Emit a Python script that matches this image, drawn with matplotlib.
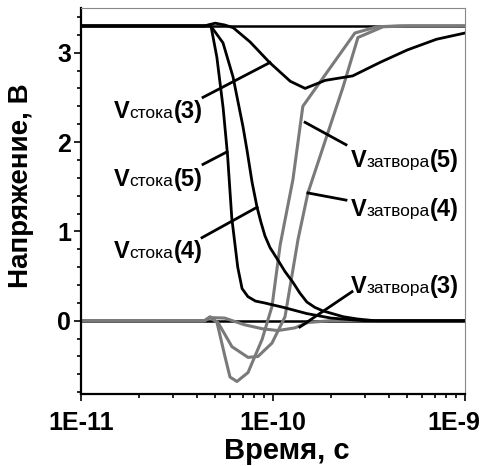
import numpy as np
import matplotlib
matplotlib.use("Agg")
from matplotlib import pyplot as plt
from matplotlib.ticker import FixedLocator, FuncFormatter, NullFormatter, MultipleLocator
from matplotlib.offsetbox import TextArea, HPacker, AnnotationBbox
from matplotlib.transforms import ScaledTranslation

plt.rcParams['font.family'] = ['Liberation Sans', 'DejaVu Sans']

# supply and ground levels
vdd = 3.3
gnd = 0.0

# drain voltages (black)
t_stok3 = [1e-11, 4.4e-11, 5.0e-11, 5.6e-11, 6.2e-11, 7.6e-11, 9.6e-11, 1.23e-10,
           1.47e-10, 1.55e-10, 1.87e-10, 2.6e-10, 3.6e-10, 5.0e-10, 7.1e-10, 1e-9]
v_stok3 = [3.3, 3.3, 3.33, 3.31, 3.28, 3.12, 2.89, 2.68,
           2.60, 2.62, 2.69, 2.74, 2.89, 3.03, 3.15, 3.22]

t_stok5 = [1e-11, 4.4e-11, 4.75e-11, 5.1e-11, 5.5e-11, 5.8e-11, 6.1e-11, 6.55e-11, 6.9e-11,
           7.4e-11, 8.1e-11, 9.0e-11, 1.13e-10, 1.5e-10, 2.0e-10, 2.6e-10, 3.0e-10, 1e-9]
v_stok5 = [3.3, 3.3, 3.3, 2.95, 2.38, 1.85, 1.15, 0.6, 0.36,
           0.27, 0.22, 0.2, 0.15, 0.08, 0.03, 0.01, 0.0, 0.0]

t_stok4 = [1e-11, 4.4e-11, 4.7e-11, 5.49e-11, 6.19e-11, 6.98e-11, 7.32e-11, 7.78e-11, 8.26e-11,
           8.66e-11, 9.08e-11, 9.64e-11, 1.06e-10, 1.155e-10, 1.27e-10, 1.38e-10, 1.5e-10,
           1.65e-10, 1.82e-10, 2.32e-10, 2.74e-10, 3.4e-10, 1e-9]
v_stok4 = [3.3, 3.3, 3.31, 3.11, 2.73, 2.17, 1.91, 1.55, 1.27,
           1.10, 0.95, 0.82, 0.68, 0.55, 0.43, 0.31, 0.21,
           0.15, 0.11, 0.045, 0.02, 0.0, 0.0]

# gate voltages (gray)
t_zatv5 = [1e-11, 4.4e-11, 4.7e-11, 5.11e-11, 5.62e-11, 5.97e-11, 6.49e-11, 7.41e-11, 8.77e-11,
           9.88e-11, 1.09e-10, 1.27e-10, 1.43e-10, 2.67e-10, 3.48e-10, 4.58e-10, 1e-9]
v_zatv5 = [0.0, 0.0, 0.045, -0.02, -0.40, -0.63, -0.68, -0.58, -0.21,
           0.16, 0.85, 1.58, 2.40, 3.22, 3.29, 3.3, 3.3]

t_zatv4 = [1e-11, 4.4e-11, 4.7e-11, 5.17e-11, 6.11e-11, 7.41e-11, 8.35e-11, 9.88e-11, 1.155e-10,
           1.35e-10, 1.52e-10, 2.32e-10, 2.77e-10, 3.74e-10, 5.18e-10, 1e-9]
v_zatv4 = [0.0, 0.0, 0.035, -0.02, -0.29, -0.41, -0.40, -0.25, 0.045,
           0.91, 1.43, 2.62, 3.17, 3.29, 3.3, 3.3]

t_zatv3 = [1e-11, 4.4e-11, 4.7e-11, 5.6e-11, 7.1e-11, 8.8e-11, 1.06e-10, 1.3e-10, 1.52e-10, 1.98e-10, 1e-9]
v_zatv3 = [0.0, 0.0, 0.035, 0.03, -0.045, -0.09, -0.11, -0.08, -0.02, 0.0, 0.0]

x_ticks = [1e-11, 1e-10, 1e-9]

gray = '#7a7a7a'

fig = plt.figure(figsize=(4.87, 4.66), dpi=100)
ax = fig.add_axes([81 / 487, 72 / 466, 384 / 487, 386 / 466])

ax.axhline(vdd, color='black', lw=1.8)
ax.axhline(gnd, color='black', lw=1.8)

ax.plot(t_zatv3, v_zatv3, color=gray, lw=2.2)
ax.plot(t_zatv4, v_zatv4, color=gray, lw=2.2)
ax.plot(t_zatv5, v_zatv5, color=gray, lw=2.2)
ax.plot(t_stok3, v_stok3, color='black', lw=2.0)
ax.plot(t_stok4, v_stok4, color='black', lw=2.0)
ax.plot(t_stok5, v_stok5, color='black', lw=2.0)

ax.set_xscale('log')
ax.set_xlim(1e-11, 1e-9)
ax.set_ylim(-0.82, 3.5)

ax.xaxis.set_major_locator(FixedLocator(x_ticks))
ax.xaxis.set_minor_locator(FixedLocator([m * d for d in x_ticks[:-1] for m in range(2, 10)]))
ax.xaxis.set_major_formatter(FuncFormatter(lambda v, p: "1E%d" % int(round(np.log10(v)))))
ax.xaxis.set_minor_formatter(NullFormatter())
ax.yaxis.set_major_locator(MultipleLocator(1))
ax.yaxis.set_minor_locator(MultipleLocator(0.2))

ax.tick_params(which='both', direction='out', top=False, right=False, width=1.2)
ax.tick_params(which='major', length=5, labelsize=18)
ax.tick_params(axis='x', which='major', pad=7)
ax.tick_params(axis='y', which='major', pad=2)
ax.tick_params(which='minor', length=3)
for lab in ax.get_xticklabels() + ax.get_yticklabels():
    lab.set_fontweight('bold')

# last x label sits a little inside the figure edge, as in the original
last = ax.xaxis.get_major_ticks()[-1].label1
last.set_transform(last.get_transform() + ScaledTranslation(-0.11, 0, fig.dpi_scale_trans))

for s in ['left', 'bottom']:
    ax.spines[s].set_linewidth(1.6)
for s in ['top', 'right']:
    ax.spines[s].set_linewidth(0.8)
    ax.spines[s].set_color('#888888')

ax.set_xlabel("Время, с", fontsize=21, fontweight='bold')
ax.xaxis.set_label_coords(0.536, -0.112)
ax.set_ylabel("Напряжение, В", fontsize=20, fontweight='bold')
ax.yaxis.set_label_coords(-0.122, 0.539)


def curve_label(sub, num, xy, line_from, line_to):
    parts = [TextArea("V", textprops=dict(fontsize=17, fontweight='bold')),
             TextArea(sub, textprops=dict(fontsize=12.5)),
             TextArea("(%s)" % num, textprops=dict(fontsize=17, fontweight='bold'))]
    box = HPacker(children=parts, align='baseline', pad=0, sep=0)
    ab = AnnotationBbox(box, xy, xycoords='data', frameon=False, box_alignment=(0.5, 0.5))
    ax.add_artist(ab)
    ax.plot([line_from[0], line_to[0]], [line_from[1], line_to[1]], color='black', lw=2.0)


curve_label("стока", 3, (2.52e-11, 2.34), (4.32e-11, 2.50), (9.64e-11, 2.89))
curve_label("стока", 5, (2.52e-11, 1.58), (4.32e-11, 1.75), (5.76e-11, 1.89))
curve_label("стока", 4, (2.52e-11, 0.77), (4.27e-11, 0.93), (8.26e-11, 1.27))
curve_label("затвора", 5, (4.87e-10, 1.79), (2.40e-10, 1.97), (1.47e-10, 2.22))
curve_label("затвора", 4, (4.87e-10, 1.24), (2.40e-10, 1.35), (1.52e-10, 1.43))
curve_label("затвора", 3, (4.87e-10, 0.38), (2.58e-10, 0.325), (1.38e-10, -0.07))

fig.savefig("out.png", dpi=100)
